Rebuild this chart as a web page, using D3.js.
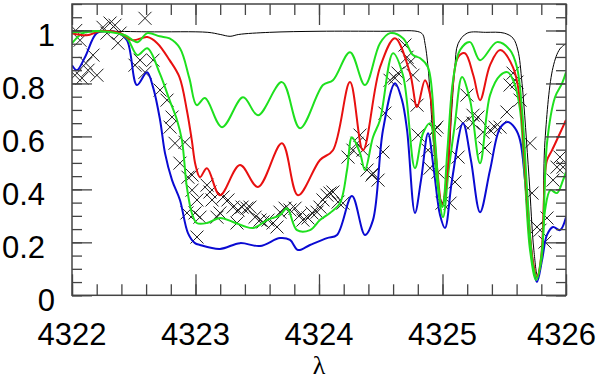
<!DOCTYPE html>
<html>
<head>
<meta charset="UTF-8">
<script src="https://d3js.org/d3.v7.min.js"></script>
<style>
  body { margin: 0; background: #fff; }
  text { font-family: "Liberation Sans", Arial, sans-serif; }
</style>
</head>
<body>
<svg width="600" height="383"></svg>
<script>
// tick values
var xTicks = [4322, 4323, 4324, 4325, 4326];
var yTicks = [0, 0.2, 0.4, 0.6, 0.8, 1];

// continuum (black)
var continuum = [[4322.0,1.0],[4322.6,0.995],[4323.1,0.993],[4323.2,0.985],[4323.28,0.978],[4323.35,0.985],
  [4323.6,0.993],[4324.0,0.997],[4324.5,0.997],[4324.8,0.996],[4324.84,0.985],[4324.858,0.952],[4324.883,0.861],
  [4324.92,0.62],[4324.96,0.42],[4325.0,0.35],[4325.04,0.45],[4325.075,0.7],[4325.1,0.86],[4325.126,0.95],
  [4325.2,0.99],[4325.35,0.993],[4325.5,0.99],[4325.571,0.971],[4325.61,0.926],[4325.644,0.8],[4325.7,0.45],
  [4325.74,0.17],[4325.77,0.075],[4325.8,0.12],[4325.83,0.585],[4325.895,0.861],[4325.95,0.93],[4326.0,0.95]];

// model 1 (upper green)
var model1 = [[4322.0,0.993],[4322.23,0.997],[4322.43,0.982],[4322.53,0.956],[4322.61,0.99],[4322.71,0.978],
  [4322.79,0.97],[4322.874,0.933],[4322.95,0.82],[4323.01,0.718],[4323.077,0.745],[4323.215,0.635],
  [4323.385,0.748],[4323.506,0.68],[4323.70,0.805],[4323.846,0.631],[4324.032,0.794],[4324.113,0.812],
  [4324.251,0.918],[4324.372,0.794],[4324.494,0.952],[4324.575,0.99],[4324.68,0.971],[4324.761,0.907],
  [4324.82,0.895],[4324.883,0.861],[4324.94,0.586],[4324.98,0.36],[4325.0,0.333],[4325.04,0.55],
  [4325.085,0.81],[4325.142,0.926],[4325.223,0.956],[4325.304,0.888],[4325.441,0.956],[4325.547,0.926],
  [4325.603,0.861],[4325.644,0.70],[4325.69,0.36],[4325.733,0.11],[4325.765,0.065],[4325.806,0.17],
  [4325.846,0.574],[4325.911,0.748],[4325.968,0.80],[4326.0,0.842]];

// model 2 (red)
var model2 = [[4322.0,0.99],[4322.12,0.982],[4322.23,0.997],[4322.39,0.99],[4322.49,0.963],[4322.61,0.975],
  [4322.69,0.952],[4322.79,0.888],[4322.87,0.824],[4322.93,0.699],[4322.97,0.586],[4323.0,0.492],
  [4323.036,0.446],[4323.093,0.48],[4323.198,0.378],[4323.36,0.492],[4323.506,0.409],[4323.70,0.574],
  [4323.83,0.378],[4324.008,0.511],[4324.113,0.548],[4324.251,0.805],[4324.356,0.548],[4324.494,0.861],
  [4324.615,0.971],[4324.737,0.839],[4324.794,0.711],[4324.858,0.812],[4324.90,0.756],[4324.95,0.51],
  [4324.996,0.341],[4325.04,0.47],[4325.08,0.775],[4325.126,0.899],[4325.182,0.914],[4325.25,0.83],
  [4325.304,0.737],[4325.385,0.869],[4325.466,0.926],[4325.571,0.861],[4325.628,0.737],[4325.68,0.40],
  [4325.733,0.125],[4325.765,0.069],[4325.80,0.15],[4325.83,0.454],[4325.846,0.51],[4325.887,0.548],
  [4325.951,0.612],[4326.0,0.662]];

// model 3 (lower green)
var model3 = [[4322.0,0.952],[4322.09,0.99],[4322.23,0.997],[4322.35,0.993],[4322.445,0.971],[4322.53,0.907],
  [4322.61,0.933],[4322.71,0.839],[4322.79,0.737],[4322.85,0.662],[4322.89,0.586],[4322.93,0.409],
  [4322.97,0.311],[4323.01,0.273],[4323.093,0.273],[4323.198,0.292],[4323.304,0.277],[4323.466,0.254],
  [4323.579,0.284],[4323.684,0.303],[4323.741,0.329],[4323.822,0.246],[4323.927,0.246],[4324.008,0.284],
  [4324.089,0.311],[4324.17,0.348],[4324.227,0.473],[4324.267,0.597],[4324.332,0.537],[4324.372,0.473],
  [4324.437,0.597],[4324.494,0.662],[4324.599,0.914],[4324.68,0.831],[4324.777,0.48],[4324.842,0.612],
  [4324.899,0.65],[4324.955,0.435],[4325.004,0.295],[4325.05,0.473],[4325.101,0.65],[4325.158,0.824],
  [4325.223,0.737],[4325.304,0.499],[4325.385,0.756],[4325.466,0.83],[4325.53,0.842],[4325.587,0.794],
  [4325.628,0.70],[4325.668,0.435],[4325.709,0.17],[4325.757,0.058],[4325.80,0.13],[4325.83,0.32],
  [4325.874,0.397],[4325.927,0.386],[4325.976,0.435],[4326.0,0.465]];

// model 4 (blue)
var model4 = [[4322.0,0.869],[4322.04,0.85],[4322.105,0.899],[4322.2,0.99],[4322.283,0.997],[4322.364,0.993],
  [4322.445,0.963],[4322.526,0.794],[4322.607,0.842],[4322.656,0.786],[4322.713,0.662],[4322.753,0.537],
  [4322.81,0.435],[4322.874,0.36],[4322.939,0.235],[4322.996,0.197],[4323.036,0.19],[4323.198,0.175],
  [4323.36,0.197],[4323.522,0.186],[4323.684,0.216],[4323.765,0.209],[4323.83,0.171],[4323.927,0.19],
  [4324.065,0.216],[4324.146,0.228],[4324.267,0.375],[4324.372,0.228],[4324.437,0.284],[4324.518,0.624],
  [4324.615,0.801],[4324.672,0.737],[4324.713,0.624],[4324.777,0.311],[4324.826,0.435],[4324.883,0.612],
  [4324.93,0.473],[4324.98,0.303],[4325.02,0.254],[4325.077,0.435],[4325.166,0.65],[4325.23,0.511],
  [4325.304,0.314],[4325.385,0.473],[4325.466,0.631],[4325.53,0.654],[4325.587,0.631],[4325.628,0.586],
  [4325.668,0.435],[4325.709,0.209],[4325.765,0.05],[4325.806,0.133],[4325.846,0.228],[4325.895,0.258],
  [4325.951,0.246],[4326.0,0.295]];

// observed spectrum (crosses)
var observed = [[4322.03,1.0],[4322.065,0.963],[4322.024,0.831],[4322.081,0.82],[4322.13,0.85],[4322.202,0.831],
  [4322.17,0.907],[4322.113,0.876],[4322.251,1.012],[4322.308,1.028],[4322.348,1.02],[4322.283,0.99],
  [4322.389,0.99],[4322.591,1.046],[4322.372,0.952],[4322.51,0.869],[4322.551,0.888],[4322.656,0.888],
  [4322.591,0.842],[4322.713,0.775],[4322.769,0.737],[4322.81,0.673],[4322.794,0.635],[4322.834,0.574],
  [4322.915,0.578],[4322.874,0.499],[4322.939,0.446],[4322.972,0.397],[4323.012,0.36],[4322.996,0.311],
  [4323.012,0.22],[4322.972,0.454],[4322.931,0.311],[4323.036,0.295],[4323.093,0.416],[4323.117,0.39],
  [4323.134,0.36],[4323.174,0.295],[4323.198,0.311],[4323.223,0.371],[4323.263,0.36],[4323.304,0.333],
  [4323.344,0.322],[4323.377,0.333],[4323.417,0.329],[4323.441,0.333],[4323.336,0.273],[4323.482,0.295],
  [4323.522,0.284],[4323.547,0.277],[4323.587,0.284],[4323.628,0.273],[4323.66,0.258],[4323.684,0.314],
  [4323.725,0.329],[4323.765,0.322],[4323.806,0.329],[4323.846,0.303],[4323.87,0.284],[4323.911,0.292],
  [4323.943,0.311],[4323.984,0.314],[4324.008,0.333],[4324.032,0.36],[4324.065,0.378],[4324.089,0.386],
  [4324.113,0.39],[4324.154,0.352],[4324.194,0.348],[4324.235,0.522],[4324.275,0.548],[4324.308,0.574],
  [4324.332,0.605],[4324.356,0.548],[4324.389,0.473],[4324.429,0.454],[4324.478,0.435],[4324.696,0.945],
  [4324.713,0.899],[4324.737,0.88],[4324.64,0.839],[4324.615,0.82],[4324.575,0.812],[4324.761,0.831],
  [4324.794,0.718],[4324.534,0.688],[4325.198,0.756],[4325.247,0.68],[4325.287,0.673],[4325.522,0.692],
  [4325.571,0.839],[4325.603,0.805],[4325.547,0.794],[4325.628,0.737],[4324.955,0.635],[4324.518,0.541],
  [4324.437,0.461],[4324.802,0.605],[4324.883,0.548],[4324.899,0.48],[4324.939,0.624],[4324.964,0.465],
  [4324.996,0.348],[4325.061,0.348],[4325.101,0.428],[4325.126,0.522],[4325.247,0.65],[4325.166,0.65],
  [4325.328,0.616],[4325.344,0.556],[4325.385,0.624],[4325.425,0.635],[4325.466,0.635],[4325.709,0.574],
  [4325.725,0.386],[4325.765,0.258],[4325.79,0.246],[4325.846,0.292],[4325.83,0.201],[4325.895,0.435],
  [4325.927,0.484],[4325.951,0.522],[4325.976,0.484]];

var config = {
  width: 600,
  height: 383,
  margin: { top: 4, right: 34, bottom: 87.7, left: 72 }
};

var svg = d3.select("svg"),
    margin = config.margin,
    width = config.width - margin.left - margin.right,
    height = config.height - margin.top - margin.bottom,
    g = svg.append("g").attr("transform", "translate(" + margin.left + "," + margin.top + ")");

var x = d3.scaleLinear().domain([4322, 4326]).range([0, width]);
var y = d3.scaleLinear().domain([0, 1.1]).range([height, 0]);

g.append("clipPath").attr("id", "plotclip")
  .append("rect").attr("width", width).attr("height", height);

var plot = g.append("g").attr("clip-path", "url(#plotclip)");

// observed crosses
var s = 6.5;
plot.append("g").selectAll("path")
  .data(observed)
  .enter().append("path")
    .attr("d", function(d) {
      var cx = x(d[0]), cy = y(d[1]);
      return "M" + (cx - s) + "," + (cy - s) + "L" + (cx + s) + "," + (cy + s) +
             "M" + (cx - s) + "," + (cy + s) + "L" + (cx + s) + "," + (cy - s);
    })
    .attr("stroke", "#222")
    .attr("stroke-width", 1)
    .attr("fill", "none");

var line = d3.line()
  .x(function(d) { return x(d[0]); })
  .y(function(d) { return y(d[1]); })
  .curve(d3.curveCatmullRom.alpha(0.5));

var series = [
  { data: continuum, color: "#000", w: 1 },
  { data: model4, color: "#0a0ad2", w: 2 },
  { data: model3, color: "#1ee01e", w: 2 },
  { data: model2, color: "#e81010", w: 2 },
  { data: model1, color: "#1ee01e", w: 2 }
];

series.forEach(function(sr) {
  plot.append("path")
    .datum(sr.data)
    .attr("d", line)
    .attr("fill", "none")
    .attr("stroke", sr.color)
    .attr("stroke-width", sr.w)
    .attr("stroke-linejoin", "round");
});

// frame and ticks
var axisColor = "#444";
var xMinor = d3.range(4322, 4326.001, 0.2);
var yMinor = d3.range(0, 1.1001, 0.05);

function drawAxis(axis, ticks, size, tr) {
  var a = g.append("g")
    .attr("transform", tr || null)
    .call(axis.tickValues(ticks).tickSize(size).tickFormat("").tickSizeOuter(0));
  a.select(".domain").remove();
  a.selectAll("line").attr("stroke", axisColor).attr("stroke-width", 1.3);
}

drawAxis(d3.axisBottom(x), xMinor, -11, "translate(0," + height + ")");
drawAxis(d3.axisBottom(x), xTicks, -21, "translate(0," + height + ")");
drawAxis(d3.axisTop(x), xMinor, -11);
drawAxis(d3.axisTop(x), xTicks, -21);
drawAxis(d3.axisLeft(y), yMinor, -10);
drawAxis(d3.axisLeft(y), yTicks, -20);
drawAxis(d3.axisRight(y), yMinor, -10, "translate(" + width + ",0)");
drawAxis(d3.axisRight(y), yTicks, -20, "translate(" + width + ",0)");

g.append("rect")
  .attr("width", width)
  .attr("height", height)
  .attr("fill", "none")
  .attr("stroke", axisColor)
  .attr("stroke-width", 1.5);

// tick labels (last one kept inside the page)
g.append("g").selectAll("text")
  .data(xTicks)
  .enter().append("text")
    .attr("x", function(d, i) { return i === xTicks.length - 1 ? width + 30 : x(d); })
    .attr("y", height + 50)
    .attr("text-anchor", function(d, i) { return i === xTicks.length - 1 ? "end" : "middle"; })
    .attr("font-size", 31)
    .text(function(d) { return d; });

g.append("g").selectAll("text")
  .data(yTicks)
  .enter().append("text")
    .attr("x", function(d) { return (d % 1 === 0) ? -17 : -27; })
    .attr("y", function(d) { return y(d) + 16; })
    .attr("text-anchor", "end")
    .attr("font-size", 31)
    .text(function(d) { return d; });

// axis title
g.append("text")
  .attr("x", x(4324))
  .attr("y", height + 79)
  .attr("text-anchor", "middle")
  .style("font-family", "'Liberation Serif', serif")
  .attr("font-size", 26)
  .text("λ");
</script>
</body>
</html>
